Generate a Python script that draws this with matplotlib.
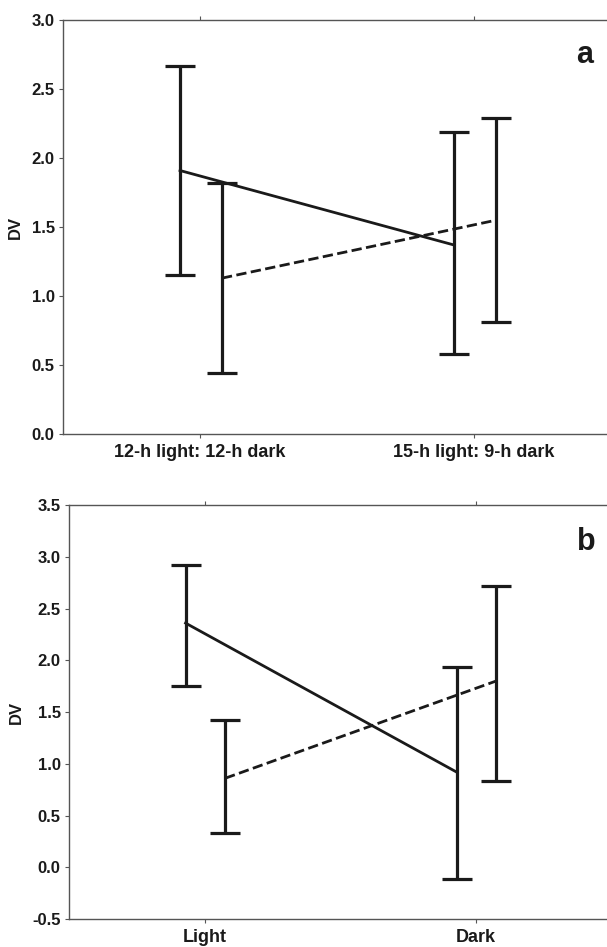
import matplotlib
matplotlib.use("Agg")
import matplotlib.pyplot as plt
import numpy as np

plt.rcParams["font.family"] = ["Liberation Sans", "DejaVu Sans"]
plt.rcParams["font.weight"] = "bold"

# panel a: photoperiod
cats_a = ["12-h light: 12-h dark", "15-h light: 9-h dark"]
solid_a = [1.91, 1.37]
solid_a_lo = [1.15, 0.58]
solid_a_hi = [2.67, 2.19]
dashed_a = [1.13, 1.55]
dashed_a_lo = [0.44, 0.81]
dashed_a_hi = [1.82, 2.29]

# panel b: light / dark
cats_b = ["Light", "Dark"]
solid_b = [2.36, 0.92]
solid_b_lo = [1.75, -0.11]
solid_b_hi = [2.92, 1.94]
dashed_b = [0.86, 1.80]
dashed_b_lo = [0.33, 0.83]
dashed_b_hi = [1.42, 2.72]

INK = "#1a1a1a"
SPINE = "#555555"


def draw(ax, cats, series, ylim, yticks, letter, letter_xy):
    x = np.arange(len(cats))
    for off, mean, lo, hi, ls in series:
        mean = np.asarray(mean)
        err = [mean - np.asarray(lo), np.asarray(hi) - mean]
        xs = x + off
        ax.plot(xs, mean, color=INK, lw=2.0, ls=ls, zorder=3)
        ax.errorbar(xs, mean, yerr=err, fmt="none", ecolor=INK,
                    elinewidth=2.3, capsize=10.5, capthick=2.3, zorder=3)
    ax.set_xlim(-0.5, 1.5)
    ax.set_ylim(*ylim)
    ax.set_yticks(yticks)
    ax.set_yticklabels([f"{t:.1f}" for t in yticks])
    ax.set_xticks(x)
    ax.set_xticklabels(cats)
    ax.set_ylabel("DV", fontsize=12, fontweight="bold", color=INK, labelpad=6)
    ax.spines["right"].set_visible(False)
    for s in ("left", "top", "bottom"):
        ax.spines[s].set_color(SPINE)
        ax.spines[s].set_linewidth(1.0)
    ax.tick_params(axis="y", direction="out", length=3, color=SPINE,
                   labelsize=12, labelcolor=INK, pad=3)
    ax.tick_params(axis="x", direction="out", length=3, color=SPINE,
                   labelsize=13, labelcolor=INK, pad=4, top=True)
    ax.text(letter_xy[0], letter_xy[1], letter, transform=ax.transAxes,
            ha="right", va="baseline", fontsize=22, fontweight="bold",
            color=INK)


fig = plt.figure(figsize=(6.07, 9.47), dpi=100)
ax_a = fig.add_axes([0.1038, 0.5417, 0.903, 0.437])
ax_b = fig.add_axes([0.1137, 0.0296, 0.893, 0.437])

draw(ax_a, cats_a,
     [(-0.073, solid_a, solid_a_lo, solid_a_hi, "-"),
      (0.08, dashed_a, dashed_a_lo, dashed_a_hi, "--")],
     (0.0, 3.0), np.arange(0.0, 3.01, 0.5), "a", (0.967, 0.896))
draw(ax_b, cats_b,
     [(-0.07, solid_b, solid_b_lo, solid_b_hi, "-"),
      (0.076, dashed_b, dashed_b_lo, dashed_b_hi, "--")],
     (-0.5, 3.5), np.arange(-0.5, 3.51, 0.5), "b", (0.972, 0.891))

fig.savefig("out.png", dpi=100)
